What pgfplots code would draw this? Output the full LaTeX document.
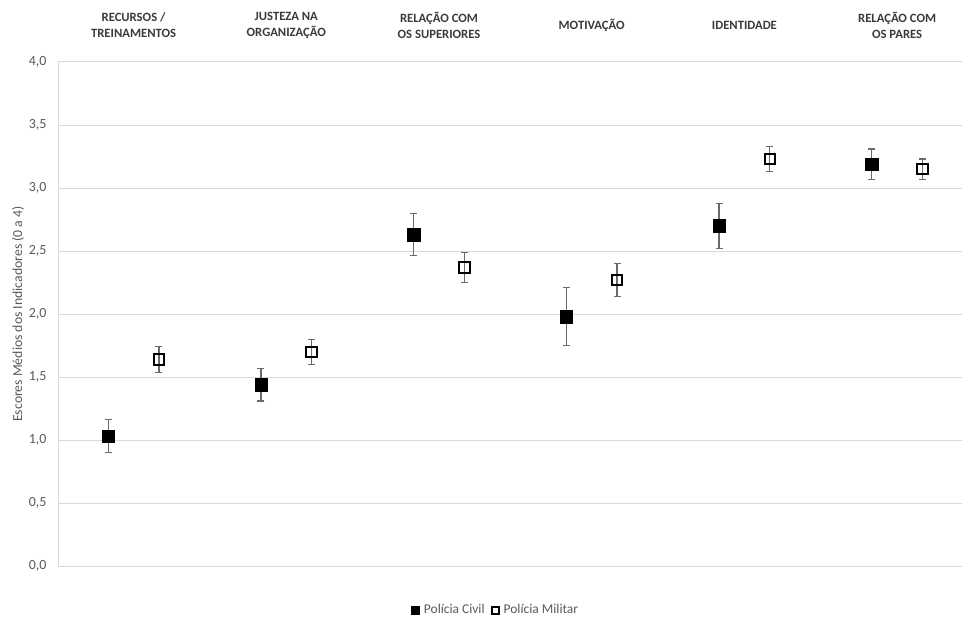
\documentclass[border=0pt]{standalone}
\usepackage{pgfplots}
\pgfplotsset{compat=1.18}
\usepackage{fontspec}
\setmainfont{Carlito}
\definecolor{gridc}{HTML}{D9D9D9}
\definecolor{txt}{HTML}{595959}
\definecolor{cat}{HTML}{3A3A3A}
\definecolor{ebar}{HTML}{6A6A6A}
\pgfplotstableread{
x y e
-0.166 1.03 0.13
0.834 1.44 0.13
1.834 2.63 0.165
2.834 1.98 0.23
3.834 2.70 0.18
4.834 3.19 0.12
}\civil
\pgfplotstableread{
x y e
0.166 1.64 0.105
1.166 1.70 0.10
2.166 2.37 0.12
3.166 2.27 0.13
4.166 3.23 0.10
5.166 3.15 0.08
}\militar
\begin{document}
\begin{tikzpicture}[x=1bp,y=1bp]
\path[use as bounding box] (0,0) rectangle (962,-619);
\begin{axis}[
  at={(58bp,-566bp)}, anchor=south west,
  scale only axis, width=904bp, height=504bp,
  xmin=-0.495, xmax=5.425, ymin=0, ymax=4,
  axis line style={draw=none},
  ymajorgrids, grid style={gridc, line width=1bp},
  ytick={0,0.5,...,4},
  /pgf/number format/assume math mode=true,
  y tick label style={/pgf/number format/fixed, /pgf/number format/fixed zerofill, /pgf/number format/precision=1, /pgf/number format/use comma, xshift=-8bp},
  tick label style={font=\fontsize{14}{16}\selectfont, text=txt},
  major tick length=0,
  xtick={0,...,5},
  xticklabel pos=top,
  xticklabels={{RECURSOS /\\TREINAMENTOS},{JUSTEZA NA\\ORGANIZAÇÃO},{RELAÇÃO COM\\OS SUPERIORES},{MOTIVAÇÃO},{IDENTIDADE},{RELAÇÃO COM\\OS PARES}},
  x tick label style={align=center, font=\bfseries\fontsize{12.7}{16}\selectfont, text=cat, anchor=center, yshift=37bp},
  ylabel={Escores Médios dos Indicadores (0 a 4)},
  ylabel style={at={(axis description cs:-0.0442,0.5)}, anchor=center, font=\fontsize{13.8}{15}\selectfont, text=txt},
  legend style={at={(axis description cs:0.484,-0.0873)}, anchor=center, draw=none, fill=none, legend columns=2,
    font=\fontsize{13.5}{15}\selectfont, text=txt,
    /tikz/every even column/.append style={column sep=5bp},
    /tikz/every odd column/.append style={inner xsep=1bp}},
  legend cell align=left,
  clip=false,
  extra description/.code={\draw[gridc, line width=1bp] (axis description cs:0,0) -- (axis description cs:0,1);},
]
\addplot[only marks, mark=square*, mark size=6.2bp, black,
  legend image post style={mark size=4bp},
  error bars/.cd, y dir=both, y explicit,
  error bar style={ebar, line width=1.2bp},
  error mark options={rotate=90, ebar, mark size=3.5bp, line width=1.2bp}]
  table[x=x, y=y, y error=e]{\civil};
\addlegendentry{\hspace{3bp}Polícia Civil}
\addplot[only marks, mark=square, mark size=5.2bp, black, mark options={line width=2bp},
  legend image post style={mark size=3.5bp, line width=1.6bp},
  error bars/.cd, y dir=both, y explicit,
  error bar style={ebar, line width=1.2bp},
  error mark options={rotate=90, ebar, mark size=3.5bp, line width=1.2bp}]
  table[x=x, y=y, y error=e]{\militar};
\addlegendentry{\hspace{3bp}Polícia Militar}
\end{axis}
\end{tikzpicture}
\end{document}
